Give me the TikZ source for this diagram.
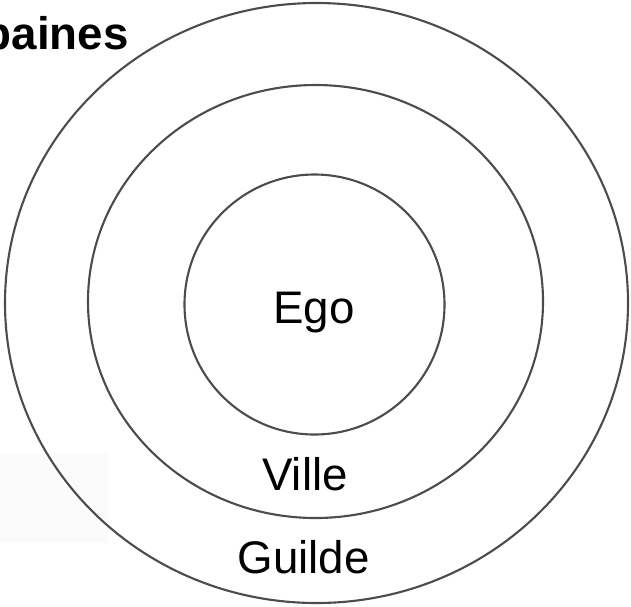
\documentclass[tikz,border=0pt]{standalone}
\usepackage{fontspec}
\setmainfont{Liberation Sans}
\usepackage{tikz}

\tikzset{
  ring/.style={draw=black!70, line width=1.2pt},
  lbl/.style={anchor=base, inner sep=0pt, font=\fontsize{26}{31}\selectfont}
}

\begin{document}
\begin{tikzpicture}[x=0.02cm, y=-0.02cm]
			\useasboundingbox (0,0) rectangle (631,606);
			\fill[black!1.5] (0,453) rectangle (108,543);
			\draw[ring] (316.5,303) ellipse (311.5 and 300);
			\draw[ring] (315.5,301.5) ellipse (227.5 and 216.5);
			\draw[ring] (314.5,304.5) circle (130);
			\node[lbl] (ego) at (314,323) {Ego};
			\node[lbl] (ville) at (305,490) {Ville};
			\node[lbl] (guilde) at (303.5,573) {Guilde};
			\node[lbl, anchor=base east, font=\fontsize{26}{31}\selectfont\bfseries] (titre) at (129,49) {baines};
		\end{tikzpicture}
\end{document}
